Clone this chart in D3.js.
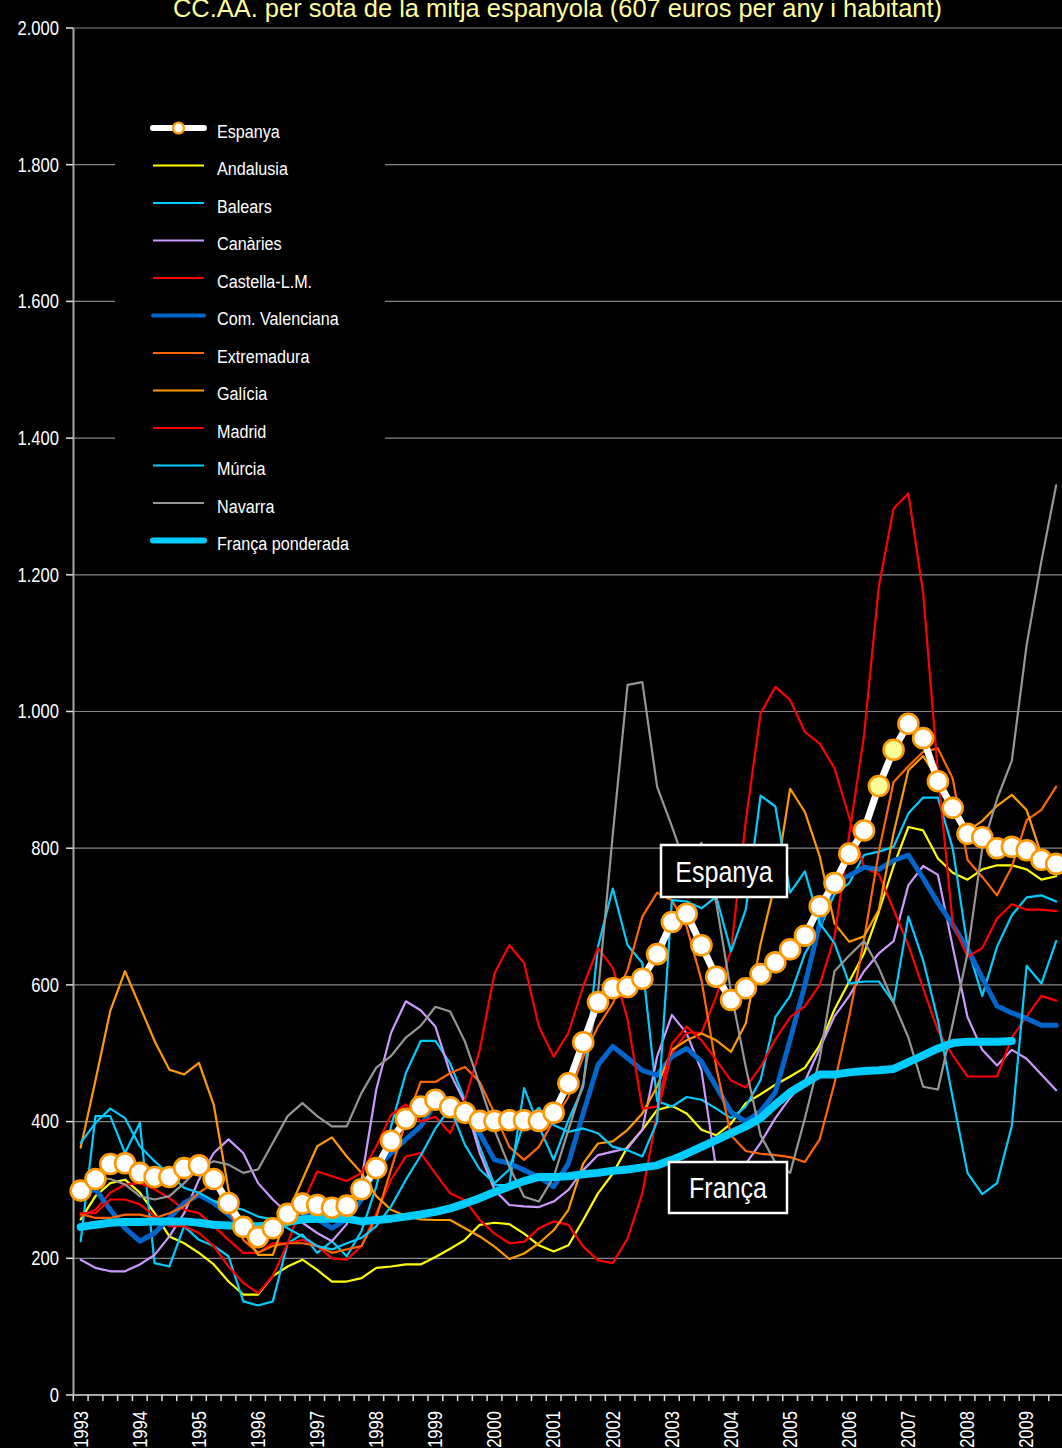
<!DOCTYPE html>
<html><head><meta charset="utf-8">
<script src="https://cdn.jsdelivr.net/npm/d3@7/dist/d3.min.js"></script>
<style>
html,body{margin:0;padding:0;background:#000;}
svg{display:block}
</style></head><body>
<svg id="chart" width="1062" height="1448"></svg>
<script>
const title = "CC.AA. per sota de la mitja espanyola (607 euros per any i habitant)";
const years = [1993,1994,1995,1996,1997,1998,1999,2000,2001,2002,2003,2004,2005,2006,2007,2008,2009];
const quarters = ["T1","T2","T3","T4"];
const nPoints = 67;
const yTicks = [0,200,400,600,800,1000,1200,1400,1600,1800,2000];

const espanya = [299,316,338,339,325,319,319,332,336,316, 281,246,231,244,265,280,278,274,277,301,
  332,372,404,422,432,421,413,401,401,402, 402,401,413,456,516,575,595,597,609,645,
  692,704,658,612,578,595,616,633,652,672, 715,749,792,826,891,944,982,961,898,859,
  821,816,800,802,797,783,777];
const espanyaHighlight = [54,55];
const andalusia = [257,291,310,315,296,266,232,222,208,191, 166,147,147,174,188,198,183,166,166,171,
  186,188,191,191,202,214,227,249,252,250, 236,219,210,219,256,295,324,363,388,417,
  423,412,388,380,397,427,440,454,466,479, 512,564,605,646,707,774,831,826,785,764,
  754,769,775,775,769,754,759];
const balears = [225,408,408,354,398,193,188,247,227,218, 203,137,131,137,222,235,208,225,203,240,
  305,393,471,518,518,485,431,363,307,307, 449,393,344,402,451,656,741,658,632,430,
  422,436,432,419,405,422,461,553,584,646, 682,733,749,790,795,802,851,874,874,800,
  656,584,656,702,728,731,722];
const canaries = [198,186,181,181,191,205,232,266,315,354, 374,354,310,286,266,252,237,225,250,315,
  447,530,576,563,539,471,427,354,300,278, 276,275,283,300,329,351,356,361,388,495,
  556,529,475,330,310,338,369,405,435,459, 507,554,584,620,646,664,746,774,761,656,
  553,505,482,505,492,469,446];
const castellaLM = [262,271,296,308,310,301,288,271,266,247, 227,208,208,222,222,227,218,200,198,218,
  266,315,349,354,324,295,285,256,236,222, 224,244,254,249,217,197,193,229,295,412,
  500,530,530,583,651,840,997,1036,1017,970, 953,917,845,772,762,710,658,595,533,497,
  466,466,466,523,554,584,577];
const valenciana = [295,301,271,244,225,237,259,281,293,281, 264,244,235,245,266,266,257,244,257,286,
  332,354,374,393,427,432,422,383,344,339, 329,319,305,339,412,483,510,493,475,468,
  495,507,488,451,414,400,415,443,520,600, 690,750,760,772,769,782,790,756,720,688,
  653,610,569,559,551,541,541];
const extremadura = [265,259,259,264,264,259,266,276,296,310, 272,227,208,218,222,222,218,208,213,218,
  260,330,400,458,458,471,480,458,412,363, 344,363,402,436,495,539,573,622,700,735,
  724,685,607,480,380,357,353,351,348,341, 374,456,554,666,795,897,920,941,946,902,
  783,758,731,773,841,856,890];
const galicia = [362,460,562,620,569,518,476,469,486,425, 300,240,205,205,266,315,364,377,349,325,
  291,271,262,257,256,256,244,232,217,199, 207,222,241,271,339,368,371,388,412,451,
  505,519,529,519,502,544,660,750,887,853, 788,690,663,671,710,822,914,935,900,850,
  825,840,862,878,856,790,775];
const madrid = [266,266,286,286,279,262,247,247,237,218, 188,164,149,174,222,280,327,320,313,325,
  364,410,425,400,407,383,432,505,617,658, 632,539,495,530,598,654,625,550,419,422,
  514,539,519,490,460,450,480,520,553,569, 600,670,820,965,1183,1297,1319,1173,910,690,
  641,654,697,718,710,710,708];
const murcia = [369,398,419,405,364,342,323,303,296,284, 276,271,261,257,244,232,218,213,222,230,
  247,276,315,350,390,420,366,330,310,330, 400,420,395,385,390,383,363,358,349,400,
  724,722,712,729,649,710,877,861,735,766, 690,661,602,605,605,574,700,636,548,435,
  325,294,310,394,628,602,664];
const navarra = [305,318,316,308,291,286,291,310,332,342, 337,325,330,369,408,427,408,393,393,442,
  479,496,523,540,568,561,517,454,388,334, 290,283,319,388,456,588,820,1039,1043,890,
  832,770,808,720,590,480,380,340,325,405, 492,620,643,664,625,574,523,451,447,543,
  646,800,872,928,1097,1220,1331];
const franca = [246,249,252,253,253,254,254,254,252,249, 248,247,247,248,253,257,258,258,258,254,
  256,258,261,264,268,273,280,288,297,305, 313,319,319,320,323,325,328,330,333,336,
  344,353,363,373,383,393,405,425,443,456, 469,469,472,474,475,477,487,497,507,515,
  517,517,517,518];

const seriesNames = ["Espanya","Andalusia","Balears","Canàries","Castella-L.M.","Com. Valenciana",
  "Extremadura","Galícia","Madrid","Múrcia","Navarra","França ponderada"];
const seriesColors = ["#FFFFFF","#FFFF00","#00CCFF","#CC99FF","#FF0000","#0066CC",
  "#FF6600","#FF9900","#FF0000","#00CCFF","#969696","#00CCFF"];
const seriesWidths = [7,2.2,2.2,2.2,2.2,5,2.2,2.2,2.2,2.2,2.2,8];

const categories = [];
years.forEach(y => quarters.forEach(q => { if (categories.length < nPoints) categories.push(y + " " + q); }));

const FONT = "'Liberation Sans',Arial,sans-serif";
const NARROW = 0.85;
const svg = d3.select("#chart");
svg.append("rect").attr("width",1062).attr("height",1448).attr("fill","#000");

// narrow text helper: a group positioned, then horizontally squeezed
function ntext(parent, tx, ty, str, size, anchor, color, extra) {
  const g = parent.append("g").attr("transform", `translate(${tx},${ty})` + (extra||"") + ` scale(${NARROW},1)`);
  return g.append("text").attr("x",0).attr("y",0).attr("text-anchor",anchor)
    .attr("font-family",FONT).attr("font-size",size).attr("fill",color).text(str);
}

const x = d3.scaleBand().domain(categories).range([73.3, 73.3 + 14.78*nPoints]).paddingInner(0).paddingOuter(0);
const xc = c => x(c) + x.bandwidth()/2;
const y = d3.scaleLinear().domain([0,2000]).range([1395, 28]);

// gridlines
svg.append("g").selectAll("line").data(yTicks.filter(t=>t>0)).join("line")
  .attr("x1",73).attr("x2",1062).attr("y1",d=>y(d)).attr("y2",d=>y(d))
  .attr("stroke","#868686").attr("stroke-width",1.2);

// title
svg.append("text").attr("x",557.5).attr("y",17).attr("text-anchor","middle")
  .attr("font-family",FONT).attr("font-size",26).attr("fill","#FFFF99")
  .attr("textLength",769).attr("lengthAdjust","spacingAndGlyphs").text(title);

// y axis
const fmt = d => d3.format(",")(d).replace(/,/g,".");
svg.append("line").attr("x1",73.5).attr("x2",73.5).attr("y1",28).attr("y2",1395).attr("stroke","#A6A6A6").attr("stroke-width",2);
svg.append("g").selectAll("line").data(yTicks).join("line")
  .attr("x1",66).attr("x2",73).attr("y1",d=>y(d)).attr("y2",d=>y(d)).attr("stroke","#E0E0E0").attr("stroke-width",1.5);
const gy = svg.append("g");
yTicks.forEach(t => ntext(gy, 59, y(t), fmt(t), 19.5, "end", "#FFFFFF").attr("dy","0.35em"));

// x axis
svg.append("line").attr("x1",73).attr("x2",1062).attr("y1",1395).attr("y2",1395).attr("stroke","#A6A6A6").attr("stroke-width",2);
svg.append("g").selectAll("line").data(categories).join("line")
  .attr("x1",d=>x(d)).attr("x2",d=>x(d)).attr("y1",1395).attr("y2",1401).attr("stroke","#E0E0E0").attr("stroke-width",1.5);
const gx = svg.append("g");
categories.forEach((c,i) => {
  if (i % 4 === 0) ntext(gx, xc(c), 1411, c.slice(0,4), 19.5, "end", "#FFFFFF", " rotate(-90)").attr("dy","0.35em");
});

// series
const data = [espanya, andalusia, balears, canaries, castellaLM, valenciana, extremadura, galicia, madrid, murcia, navarra, franca];
const line = d3.line().x((d,i)=>xc(categories[i])).y(d=>y(d));
const drawOrder = [1,2,3,4,5,6,7,8,9,10,11,0];
const gl = svg.append("g");
drawOrder.forEach(k => {
  gl.append("path").attr("d", line(data[k])).attr("fill","none")
    .attr("stroke", seriesColors[k]).attr("stroke-width", seriesWidths[k])
    .attr("stroke-linejoin","round").attr("stroke-linecap","round");
});
gl.append("g").selectAll("circle").data(espanya).join("circle")
  .attr("cx",(d,i)=>xc(categories[i])).attr("cy",d=>y(d)).attr("r",10)
  .attr("fill",(d,i)=>espanyaHighlight.includes(i)?"#FFFF99":"#FFFFFF")
  .attr("stroke","#FF9900").attr("stroke-width",2.6);

// annotation boxes
function label(txt, x0, y0, w, h) {
  svg.append("rect").attr("x",x0).attr("y",y0).attr("width",w).attr("height",h)
    .attr("fill","#000").attr("stroke","#FFFFFF").attr("stroke-width",2.5);
  ntext(svg, x0+w/2, y0+h/2, txt, 29.5, "middle", "#FFFFFF").attr("dy","0.36em");
}
label("Espanya", 661, 845, 126, 52);
label("França", 669, 1162, 118, 51);

// legend
const lg = svg.append("g");
lg.append("rect").attr("x",115).attr("y",100).attr("width",270).attr("height",466).attr("fill","#000");
seriesNames.forEach((name,k) => {
  const ly = 128 + k*37.5;
  lg.append("line").attr("x1",153).attr("x2",204).attr("y1",ly).attr("y2",ly)
    .attr("stroke",seriesColors[k]).attr("stroke-width", k===0?6:(k===5?4:(k===11?6:2.2)))
    .attr("stroke-linecap", (k===0||k===5||k===11)?"round":"butt");
  if (k===0) lg.append("circle").attr("cx",178.5).attr("cy",ly).attr("r",5.5)
    .attr("fill","#fff").attr("stroke","#FF9900").attr("stroke-width",2.2);
  ntext(lg, 217, ly+3, name, 19, "start", "#FFFFFF").attr("dy","0.35em");
});
</script>
</body></html>
